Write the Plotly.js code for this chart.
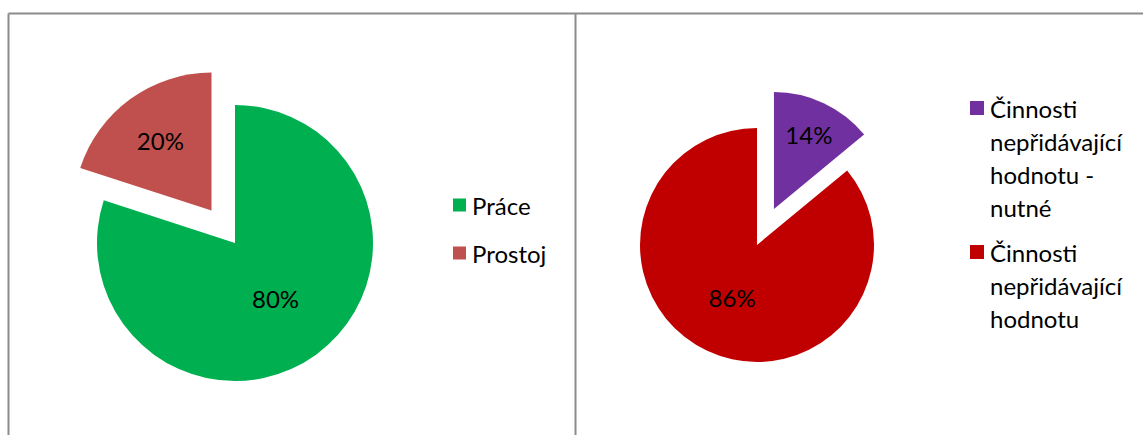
<!DOCTYPE html>
<html>
<head>
<meta charset="utf-8">
<script src="https://cdn.plot.ly/plotly-3.0.1.min.js"></script>
<style>html,body{margin:0;padding:0;background:#fff;}#chart{width:1143px;height:435px;}</style>
</head>
<body>
<div id="chart"></div>
<script>
// ---- data ----
const leftLabels = ['Práce', 'Prostoj'];
const leftValues = [80, 20];
const leftColors = ['#00B050', '#C0504D'];

const rightLabels = ['Činnosti nepřidávající hodnotu - nutné', 'Činnosti nepřidávající hodnotu'];
const rightValues = [14, 86];
const rightColors = ['#7030A0', '#C00000'];

// ---- layout helpers ----
const W = 1143, H = 435;
const FONT = 'Lato, "Noto Sans", sans-serif';
const px = x => x / W;
const py = y => 1 - y / H;

function wrap(label, maxChars) {
  const words = label.split(' ');
  const lines = [];
  let cur = '';
  words.forEach(w => {
    if (cur === '') cur = w;
    else if ((cur + ' ' + w).length <= maxChars) cur += ' ' + w;
    else { lines.push(cur); cur = w; }
  });
  if (cur) lines.push(cur);
  return lines;
}

function pieDomain(cx, cy, r, pull) {
  const half = r * (1 + pull);
  return { x: [px(cx - half), px(cx + half)], y: [py(cy + half), py(cy - half)] };
}

const traces = [
  {
    type: 'pie', labels: leftLabels, values: leftValues, sort: false,
    direction: 'clockwise', rotation: 0, pull: [0, 0.29],
    marker: { colors: leftColors, line: { width: 0 } },
    textinfo: 'percent', textposition: 'inside', insidetextorientation: 'horizontal',
    textfont: { family: FONT, size: 24, color: '#000' },
    domain: pieDomain(235, 243, 138, 0.29), hoverinfo: 'label+percent'
  },
  {
    type: 'pie', labels: rightLabels, values: rightValues, sort: false,
    direction: 'clockwise', rotation: 0, pull: [0.34, 0],
    marker: { colors: rightColors, line: { width: 0 } },
    textinfo: 'percent', textposition: 'inside', insidetextorientation: 'horizontal',
    textfont: { family: FONT, size: 24, color: '#000' },
    domain: pieDomain(757, 245, 117, 0.34), hoverinfo: 'label+percent'
  }
];

const shapes = [];
const annotations = [];

// frame lines
const frameColor = '#8c8c8c';
shapes.push({ type: 'line', xref: 'paper', yref: 'paper', x0: px(8.5), x1: 1, y0: py(13.5), y1: py(13.5), line: { color: frameColor, width: 2 } });
shapes.push({ type: 'line', xref: 'paper', yref: 'paper', x0: px(8.5), x1: px(8.5), y0: py(13.5), y1: 0, line: { color: frameColor, width: 2 } });
shapes.push({ type: 'line', xref: 'paper', yref: 'paper', x0: px(575.5), x1: px(575.5), y0: py(13.5), y1: 0, line: { color: frameColor, width: 2 } });

// manual legends
function legend(labels, colors, sqX, sqSize, textX, firstY, lineH, gap, maxChars) {
  let y = firstY;
  labels.forEach((lab, i) => {
    const lines = wrap(lab, maxChars);
    shapes.push({ type: 'rect', xref: 'paper', yref: 'paper',
      x0: px(sqX), x1: px(sqX + sqSize), y0: py(y + sqSize / 2), y1: py(y - sqSize / 2),
      fillcolor: colors[i], line: { width: 0 } });
    lines.forEach((ln, j) => {
      annotations.push({ xref: 'paper', yref: 'paper', x: px(textX), y: py(y + j * lineH),
        xanchor: 'left', yanchor: 'middle', showarrow: false, text: ln,
        font: { family: FONT, size: 24, color: '#000' } });
    });
    y += lines.length * lineH + gap;
  });
}
legend(leftLabels, leftColors, 453, 13, 470, 205, 33, 15, 12);
legend(rightLabels, rightColors, 970, 14, 988, 108, 33, 12, 12);

const layout = {
  width: W, height: H, margin: { l: 0, r: 0, t: 0, b: 0 },
  paper_bgcolor: '#fff', plot_bgcolor: '#fff', showlegend: false,
  font: { family: FONT },
  shapes: shapes, annotations: annotations
};

Plotly.newPlot('chart', traces, layout, { displayModeBar: false, staticPlot: true });
</script>
</body>
</html>
